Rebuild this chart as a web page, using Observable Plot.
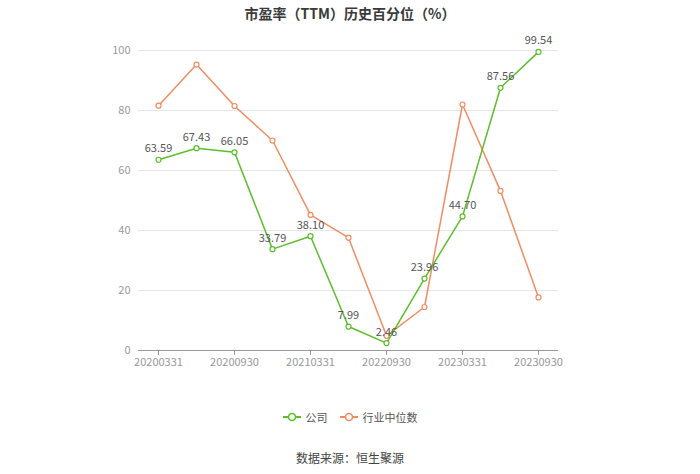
<!DOCTYPE html>
<html><head><meta charset="utf-8">
<script src="https://cdn.jsdelivr.net/npm/d3@7"></script>
<script src="https://cdn.jsdelivr.net/npm/@observablehq/plot@0.6"></script>
<style>
body{margin:0;background:#fff;font-family:"Noto Sans CJK SC","Noto Sans",sans-serif;}
#wrap{width:700px;height:474px;position:relative;}
#title{height:30px;line-height:26px;text-align:center;font-size:14px;font-weight:bold;color:#3a3a3a;}
#legend{position:absolute;top:408px;left:0;width:700px;height:18px;display:flex;justify-content:center;align-items:center;font-size:11px;color:#555;}
#legend .item{display:flex;align-items:center;margin:0 6px;}
#legend svg{margin-right:5px;}
#caption{position:absolute;top:449px;left:0;width:700px;text-align:center;font-size:12px;color:#444;}
</style></head>
<body><div id="wrap">
<div id="title">市盈率（TTM）历史百分位（%）</div>
<div id="chart"></div>
<div id="legend"></div>
<div id="caption">数据来源：恒生聚源</div>
</div>
<script>
const dates = ["20200331","20200630","20200930","20201231","20210331","20220630","20220930","20221231","20230331","20230630","20230930"];
const company = [63.59,67.43,66.05,33.79,38.10,7.99,2.46,23.96,44.70,87.56,99.54];
const industry = [81.6,95.3,81.5,70.0,45.2,37.6,4.9,14.5,82.0,53.2,17.7];
const tickDates = ["20200331","20200930","20210331","20220930","20230331","20230930"];
const yTicks = [0,20,40,60,80,100];
const seriesNames = ["公司","行业中位数"];
const colors = ["#5bbf2b","#f38c62"];

const compData = dates.map((d,i)=>({date:d,value:company[i]}));
const indData = dates.map((d,i)=>({date:d,value:industry[i]}));

const chart = Plot.plot({
  width:700, height:370,
  marginTop:20, marginBottom:50, marginLeft:138, marginRight:142,
  style:{fontFamily:'"Noto Sans CJK SC","Noto Sans",sans-serif',fontSize:"11px",color:"#999",background:"#fff"},
  x:{type:"point", domain:dates, padding:0.5, label:null},
  y:{domain:[0,100], label:null},
  marks:[
    Plot.gridY(yTicks,{stroke:"#e6e6e6",strokeOpacity:1}),
    Plot.axisY(yTicks,{tickSize:0,tickPadding:8,fill:"#999",fontSize:11,label:null}),
    Plot.ruleY([0],{stroke:"#9a9a9a"}),
    Plot.axisX(tickDates,{tickSize:5,tickPadding:3,stroke:"#9a9a9a",fill:"#999",fontSize:11,tickFormat:d=>d,label:null}),
    Plot.line(indData,{x:"date",y:"value",stroke:colors[1],strokeWidth:1.5}),
    Plot.dot(indData,{x:"date",y:"value",r:2.5,stroke:colors[1],fill:"#fff",strokeWidth:1.2}),
    Plot.line(compData,{x:"date",y:"value",stroke:colors[0],strokeWidth:1.5}),
    Plot.dot(compData,{x:"date",y:"value",r:2.5,stroke:colors[0],fill:"#fff",strokeWidth:1.2}),
    Plot.text(compData,{x:"date",y:"value",text:d=>d.value.toFixed(2),dy:-11,fill:"#555",fontSize:11})
  ]
});
document.getElementById("chart").appendChild(chart);

const legend = document.getElementById("legend");
seriesNames.forEach((n,i)=>{
  const it=document.createElement("div");it.className="item";
  it.innerHTML=`<svg width="18" height="10"><line x1="0" y1="5" x2="18" y2="5" stroke="${colors[i]}" stroke-width="2"/><circle cx="9" cy="5" r="3.5" fill="#fff" stroke="${colors[i]}" stroke-width="1.6"/></svg><span>${n}</span>`;
  legend.appendChild(it);
});
</script>
</body></html>
